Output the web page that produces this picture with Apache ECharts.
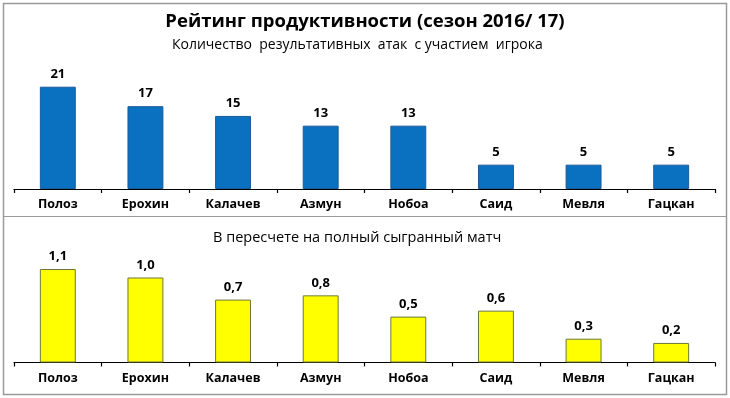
<!DOCTYPE html>
<html>
<head>
<meta charset="utf-8">
<script src="https://cdn.jsdelivr.net/npm/echarts@6/dist/echarts.min.js"></script>
<style>
html,body{margin:0;padding:0;background:#fff;}
#c{width:730px;height:398px;}
</style>
</head>
<body>
<div id="c"></div>
<script>
const players = ['Полоз','Ерохин','Калачев','Азмун','Нобоа','Саид','Мевля','Гацкан'];
const attacks = [21, 17, 15, 13, 13, 5, 5, 5];
const perMatch = [1.10, 1.00, 0.74, 0.79, 0.54, 0.61, 0.28, 0.23];
const titleText = 'Рейтинг продуктивности (сезон 2016/ 17)';
const subtitleTop = 'Количество  результативных  атак  с участием  игрока';
const subtitleBottom = 'В пересчете на полный сыгранный матч';

const FONT = '"Open Sans", "DejaVu Sans", sans-serif';
const chart = echarts.init(document.getElementById('c'));

const catAxis = (gi) => ({
  type: 'category', gridIndex: gi, data: players, boundaryGap: true,
  axisLine: { show: true, lineStyle: { color: '#000', width: 1.2 } },
  axisTick: { show: true, length: 4, lineStyle: { color: '#000', width: 1.2 } },
  axisLabel: { color: '#000', fontWeight: 'bold', fontSize: 12.5, fontFamily: FONT, margin: 9 }
});
const valAxis = (gi, max) => ({
  type: 'value', gridIndex: gi, min: 0, max: max,
  show: false, splitLine: { show: false }
});

chart.setOption({
  animation: false,
  backgroundColor: '#fff',
  title: [
    { text: titleText, left: 'center', top: 7,
      textStyle: { fontSize: 18.5, fontWeight: 'bold', color: '#000', fontFamily: FONT } },
    { text: subtitleTop, left: 167, top: 33,
      textStyle: { fontSize: 14, fontWeight: 'normal', color: '#000', fontFamily: FONT } },
    { text: subtitleBottom, left: 208, top: 225,
      textStyle: { fontSize: 14.5, fontWeight: 'normal', color: '#000', fontFamily: FONT } }
  ],
  graphic: [
    { type: 'rect', shape: { x: 3.5, y: 3.5, width: 723, height: 391 },
      style: { fill: 'none', stroke: '#9a9a9a', lineWidth: 1.5 }, silent: true },
    { type: 'line', shape: { x1: 3.5, y1: 216.5, x2: 726.5, y2: 216.5 },
      style: { stroke: '#9a9a9a', lineWidth: 1.2 }, silent: true }
  ],
  grid: [
    { left: 14, right: 15, top: 86.7, bottom: 209 },
    { left: 14, right: 15, top: 269, bottom: 35.5 }
  ],
  xAxis: [catAxis(0), catAxis(1)],
  yAxis: [valAxis(0, 21), valAxis(1, 1.1)],
  series: [
    { type: 'bar', xAxisIndex: 0, yAxisIndex: 0, data: attacks, barWidth: '41%',
      itemStyle: { color: '#0A70C0', borderColor: '#1B5A9A', borderWidth: 1 },
      label: { show: true, position: 'top', distance: 6, color: '#000', fontWeight: 'bold',
        fontSize: 13, fontFamily: FONT } },
    { type: 'bar', xAxisIndex: 1, yAxisIndex: 1, data: perMatch, barWidth: '41%',
      itemStyle: { color: '#FFFF00', borderColor: '#6B7A3A', borderWidth: 1 },
      label: { show: true, position: 'top', distance: 6, color: '#000', fontWeight: 'bold',
        fontSize: 13, fontFamily: FONT,
        formatter: (p) => p.value.toFixed(1).replace('.', ',') } }
  ]
});
</script>
</body>
</html>
